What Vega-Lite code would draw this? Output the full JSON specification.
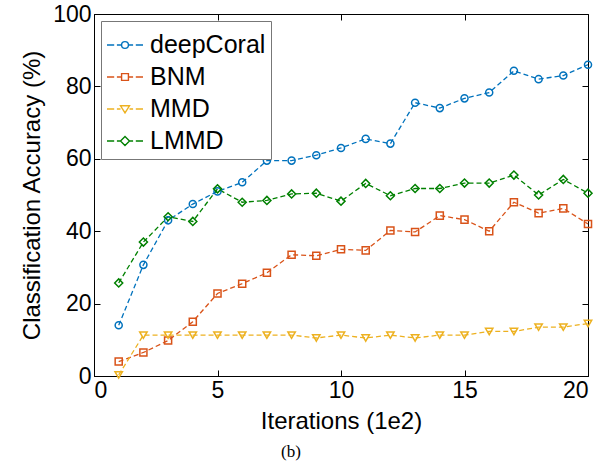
{
  "$schema": "https://vega.github.io/schema/vega-lite/v6.json",
  "width": 494,
  "height": 362,
  "autosize": {"type": "none"},
  "padding": {"left": 94, "top": 14, "right": 27, "bottom": 90},
  "background": "white",
  "title": {"text": "(b)", "orient": "bottom", "font": "Liberation Serif", "fontSize": 17, "fontWeight": "normal", "color": "black", "anchor": "middle", "dx": -50, "offset": 11},
  "config": {
    "view": {"stroke": "black", "strokeWidth": 1},
    "axis": {"grid": false, "domainColor": "black", "tickColor": "black", "labelColor": "black", "titleColor": "black", "labelFont": "Liberation Sans", "titleFont": "Liberation Sans", "labelFontSize": 23, "titleFontSize": 24, "titleFontWeight": "normal", "tickSize": -6, "labelPadding": 9},
    "legend": {"labelFont": "Liberation Sans", "labelFontSize": 25, "labelColor": "black", "labelLimit": 400}
  },
  "data": {"values": [
    {"iter":1,"method":"deepCoral","acc":14},{"iter":2,"method":"deepCoral","acc":30.7},{"iter":3,"method":"deepCoral","acc":43},{"iter":4,"method":"deepCoral","acc":47.5},{"iter":5,"method":"deepCoral","acc":51},{"iter":6,"method":"deepCoral","acc":53.5},{"iter":7,"method":"deepCoral","acc":59.5},{"iter":8,"method":"deepCoral","acc":59.5},{"iter":9,"method":"deepCoral","acc":61},{"iter":10,"method":"deepCoral","acc":63},{"iter":11,"method":"deepCoral","acc":65.5},{"iter":12,"method":"deepCoral","acc":64.2},{"iter":13,"method":"deepCoral","acc":75.5},{"iter":14,"method":"deepCoral","acc":74},{"iter":15,"method":"deepCoral","acc":76.7},{"iter":16,"method":"deepCoral","acc":78.3},{"iter":17,"method":"deepCoral","acc":84.3},{"iter":18,"method":"deepCoral","acc":82},{"iter":19,"method":"deepCoral","acc":83},{"iter":20,"method":"deepCoral","acc":86},
    {"iter":1,"method":"BNM","acc":4},{"iter":2,"method":"BNM","acc":6.5},{"iter":3,"method":"BNM","acc":9.8},{"iter":4,"method":"BNM","acc":15},{"iter":5,"method":"BNM","acc":22.8},{"iter":6,"method":"BNM","acc":25.5},{"iter":7,"method":"BNM","acc":28.5},{"iter":8,"method":"BNM","acc":33.5},{"iter":9,"method":"BNM","acc":33.2},{"iter":10,"method":"BNM","acc":35},{"iter":11,"method":"BNM","acc":34.7},{"iter":12,"method":"BNM","acc":40.2},{"iter":13,"method":"BNM","acc":39.8},{"iter":14,"method":"BNM","acc":44.3},{"iter":15,"method":"BNM","acc":43.2},{"iter":16,"method":"BNM","acc":40},{"iter":17,"method":"BNM","acc":48},{"iter":18,"method":"BNM","acc":45},{"iter":19,"method":"BNM","acc":46.3},{"iter":20,"method":"BNM","acc":42},
    {"iter":1,"method":"MMD","acc":0.3},{"iter":2,"method":"MMD","acc":11.3},{"iter":3,"method":"MMD","acc":11.3},{"iter":4,"method":"MMD","acc":11.3},{"iter":5,"method":"MMD","acc":11.3},{"iter":6,"method":"MMD","acc":11.3},{"iter":7,"method":"MMD","acc":11.3},{"iter":8,"method":"MMD","acc":11.3},{"iter":9,"method":"MMD","acc":10.5},{"iter":10,"method":"MMD","acc":11.3},{"iter":11,"method":"MMD","acc":10.5},{"iter":12,"method":"MMD","acc":11.3},{"iter":13,"method":"MMD","acc":10.5},{"iter":14,"method":"MMD","acc":11.3},{"iter":15,"method":"MMD","acc":11.3},{"iter":16,"method":"MMD","acc":12.3},{"iter":17,"method":"MMD","acc":12.3},{"iter":18,"method":"MMD","acc":13.5},{"iter":19,"method":"MMD","acc":13.5},{"iter":20,"method":"MMD","acc":14.5},
    {"iter":1,"method":"LMMD","acc":25.7},{"iter":2,"method":"LMMD","acc":37},{"iter":3,"method":"LMMD","acc":44},{"iter":4,"method":"LMMD","acc":42.7},{"iter":5,"method":"LMMD","acc":51.7},{"iter":6,"method":"LMMD","acc":48},{"iter":7,"method":"LMMD","acc":48.5},{"iter":8,"method":"LMMD","acc":50.3},{"iter":9,"method":"LMMD","acc":50.5},{"iter":10,"method":"LMMD","acc":48.3},{"iter":11,"method":"LMMD","acc":53.2},{"iter":12,"method":"LMMD","acc":49.8},{"iter":13,"method":"LMMD","acc":51.8},{"iter":14,"method":"LMMD","acc":51.8},{"iter":15,"method":"LMMD","acc":53.3},{"iter":16,"method":"LMMD","acc":53.3},{"iter":17,"method":"LMMD","acc":55.5},{"iter":18,"method":"LMMD","acc":50},{"iter":19,"method":"LMMD","acc":54.3},{"iter":20,"method":"LMMD","acc":50.5}
  ]},
  "layer": [
    {
      "mark": {"type": "point", "filled": false, "opacity": 0},
      "encoding": {
        "x": {"field": "iter", "type": "quantitative", "scale": {"domain": [0, 20], "nice": false}, "axis": null},
        "y": {"field": "acc", "type": "quantitative", "scale": {"domain": [0, 100], "nice": false}, "axis": null},
        "color": {"field": "method", "type": "nominal",
          "scale": {"domain": ["deepCoral", "BNM", "MMD", "LMMD"], "range": ["#0072BD", "#D95319", "#EDB120", "#008000"]},
          "legend": {
            "title": null, "orient": "top-left", "offset": 7, "padding": 5,
            "strokeColor": "#777", "fillColor": "white", "labelFontSize": 25, "labelLimit": 400,
            "symbolSize": 1296, "symbolFillColor": "transparent", "symbolStrokeWidth": 1.4, "symbolOpacity": 1,
            "labelOffset": 6, "rowPadding": 0
          }
        },
        "shape": {"field": "method", "type": "nominal",
          "scale": {"domain": ["deepCoral", "BNM", "MMD", "LMMD"], "range": [
            "M-1,0H-0.6M-0.45,0H-0.19M0.19,0H0.45M0.6,0H1M0.19,0A0.19,0.19 0 1,1 -0.19,0A0.19,0.19 0 1,1 0.19,0Z",
            "M-1,0H-0.6M-0.45,0H-0.19M0.19,0H0.45M0.6,0H1M-0.19,-0.19H0.19V0.19H-0.19Z",
            "M-1,0H-0.6M-0.45,0H-0.25M0.25,0H0.45M0.6,0H1M-0.25,-0.18H0.25L0,0.22Z",
            "M-1,0H-0.6M-0.45,0H-0.25M0.25,0H0.45M0.6,0H1M0,-0.25L0.25,0L0,0.25L-0.25,0Z"
          ]},
          "legend": {
            "title": null, "orient": "top-left", "offset": 7, "padding": 5,
            "strokeColor": "#777", "fillColor": "white", "labelFontSize": 25, "labelLimit": 400,
            "symbolSize": 1296, "symbolFillColor": "transparent", "symbolStrokeWidth": 1.4, "symbolOpacity": 1,
            "labelOffset": 6, "rowPadding": 0
          }
        }
      }
    },
    {
      "mark": {"type": "line", "strokeDash": [5, 3], "strokeWidth": 1.3},
      "encoding": {
        "x": {"field": "iter", "type": "quantitative", "axis": {"values": [0, 5, 10, 15, 20], "title": "Iterations (1e2)", "titlePadding": 7}},
        "y": {"field": "acc", "type": "quantitative", "axis": {"values": [0, 20, 40, 60, 80, 100], "title": "Classification Accuracy (%)", "titlePadding": 8}},
        "stroke": {"field": "method", "type": "nominal", "scale": {"domain": ["deepCoral", "BNM", "MMD", "LMMD"], "range": ["#0072BD", "#D95319", "#EDB120", "#008000"]}, "legend": null}
      }
    },
    {
      "transform": [{"filter": "datum.method == 'deepCoral'"}],
      "mark": {"type": "point", "shape": "circle", "filled": false, "strokeWidth": 1.5, "size": 50, "opacity": 1},
      "encoding": {
        "x": {"field": "iter", "type": "quantitative", "axis": {"orient": "top", "values": [0, 5, 10, 15, 20], "labels": false, "title": null, "domain": false}},
        "y": {"field": "acc", "type": "quantitative", "axis": {"orient": "right", "values": [0, 20, 40, 60, 80, 100], "labels": false, "title": null, "domain": false}},
        "stroke": {"field": "method", "type": "nominal", "legend": null}
      }
    },
    {
      "transform": [{"filter": "datum.method == 'BNM'"}],
      "mark": {"type": "point", "shape": "square", "filled": false, "strokeWidth": 1.5, "size": 50, "opacity": 1},
      "encoding": {
        "x": {"field": "iter", "type": "quantitative", "axis": null},
        "y": {"field": "acc", "type": "quantitative", "axis": null},
        "stroke": {"field": "method", "type": "nominal", "legend": null}
      }
    },
    {
      "transform": [{"filter": "datum.method == 'MMD'"}],
      "mark": {"type": "point", "shape": "triangle-down", "filled": false, "strokeWidth": 1.5, "size": 55, "opacity": 1},
      "encoding": {
        "x": {"field": "iter", "type": "quantitative", "axis": null},
        "y": {"field": "acc", "type": "quantitative", "axis": null},
        "stroke": {"field": "method", "type": "nominal", "legend": null}
      }
    },
    {
      "transform": [{"filter": "datum.method == 'LMMD'"}],
      "mark": {"type": "point", "shape": "diamond", "filled": false, "strokeWidth": 1.5, "size": 65, "opacity": 1},
      "encoding": {
        "x": {"field": "iter", "type": "quantitative", "axis": null},
        "y": {"field": "acc", "type": "quantitative", "axis": null},
        "stroke": {"field": "method", "type": "nominal", "legend": null}
      }
    }
  ],
  "resolve": {"axis": {"x": "independent", "y": "independent"}}
}
